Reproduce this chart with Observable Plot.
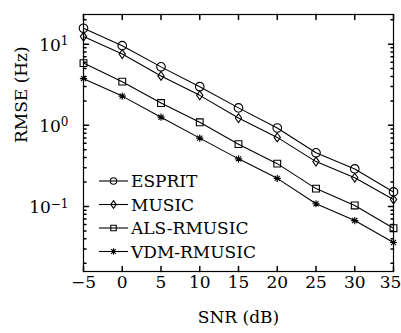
<!DOCTYPE html>
<html><head><meta charset="utf-8">
<script src="https://cdn.jsdelivr.net/npm/d3@7"></script>
<script src="https://cdn.jsdelivr.net/npm/@observablehq/plot@0.6"></script>
<style>
body{margin:0;background:#fff;}
#wrap{position:relative;width:401px;height:333px;}
#wrap svg{position:absolute;left:0;top:0;}
</style></head><body><div id="wrap"></div>
<script>
const snr = [-5, 0, 5, 10, 15, 20, 25, 30, 35];
const esprit = [15.7, 9.58, 5.25, 2.99, 1.64, 0.927, 0.458, 0.29, 0.151];
const music = [12.4, 7.55, 4.06, 2.34, 1.23, 0.71, 0.357, 0.226, 0.122];
const als = [5.84, 3.45, 1.88, 1.09, 0.586, 0.337, 0.166, 0.103, 0.054];
const vdm = [3.76, 2.29, 1.26, 0.695, 0.386, 0.222, 0.108, 0.067, 0.036];
const seriesNames = ["ESPRIT", "MUSIC", "ALS-RMUSIC", "VDM-RMUSIC"];
const xTicks = [-5, 0, 5, 10, 15, 20, 25, 30, 35];
const yTicks = [0.1, 1, 10];
const yTickLabels = ["10^−1", "10^0", "10^1"];
const xDomain = [-5, 35];
const yDomain = [0.0158, 23.2];

const FONT = "DejaVu Serif";

// marker shapes
const circleSym = {draw(c, s) { const r = Math.sqrt(s / Math.PI); c.moveTo(r, 0); c.arc(0, 0, r, 0, 2 * Math.PI); }};
const diamondSym = {draw(c, s) { const r = Math.sqrt(s / Math.PI); const h = r * 1.2, w = r * 0.85;
  c.moveTo(0, -h); c.lineTo(w, 0); c.lineTo(0, h); c.lineTo(-w, 0); c.closePath(); }};
const squareSym = {draw(c, s) { const r = Math.sqrt(s / Math.PI) * 0.85; c.rect(-r, -r, 2 * r, 2 * r); }};
const starSym = {draw(c, s) { const r = Math.sqrt(s / Math.PI);
  c.moveTo(-r, 0); c.lineTo(r, 0); c.moveTo(0, -r); c.lineTo(0, r);
  const d = r * 0.72; c.moveTo(-d, -d); c.lineTo(d, d); c.moveTo(-d, d); c.lineTo(d, -d); }};
const symbols = [circleSym, diamondSym, squareSym, starSym];
const radii = [4.3, 3.7, 4.0, 3.6];

const seriesVals = [esprit, music, als, vdm];
const rows = [];
seriesNames.forEach((name, k) => snr.forEach((x, i) => rows.push({name, k, x, y: seriesVals[k][i]})));

const tickShape = {draw(c, l) { c.moveTo(0, 0); c.lineTo(0, -l); }};

const minor = [];
for (let e = -2; e <= 1; e++) for (let m = 2; m <= 9; m++) {
  const v = m * Math.pow(10, e);
  if (v > yDomain[0] && v < yDomain[1]) minor.push(v);
}

const marks = [];
seriesNames.forEach((name, k) => {
  const data = rows.filter(d => d.k === k);
  marks.push(Plot.line(data, {x: "x", y: "y", stroke: "black", strokeWidth: 1.1}));
  marks.push(Plot.dot(data, {x: "x", y: "y", symbol: symbols[k], r: radii[k], stroke: "black", fill: "none", strokeWidth: 1.1}));
});

const fmtX = d => d < 0 ? "\u2212" + Math.abs(d) : String(d);
const lastX = xTicks[xTicks.length - 1];

// ticks (inward)
marks.push(
  Plot.vector(xTicks, {x: d => d, frameAnchor: "bottom", length: 5, rotate: 0, anchor: "start", shape: tickShape, stroke: "black"}),
  Plot.vector(xTicks, {x: d => d, frameAnchor: "top", length: 5, rotate: 180, anchor: "start", shape: tickShape, stroke: "black"}),
  Plot.vector(yTicks, {y: d => d, frameAnchor: "left", length: 5, rotate: 90, anchor: "start", shape: tickShape, stroke: "black"}),
  Plot.vector(yTicks, {y: d => d, frameAnchor: "right", length: 5, rotate: -90, anchor: "start", shape: tickShape, stroke: "black"}),
  Plot.vector(minor, {y: d => d, frameAnchor: "left", length: 2.5, rotate: 90, anchor: "start", shape: tickShape, stroke: "black"}),
  Plot.vector(minor, {y: d => d, frameAnchor: "right", length: 2.5, rotate: -90, anchor: "start", shape: tickShape, stroke: "black"}),
  Plot.frame({stroke: "black", strokeWidth: 1.2}),
  Plot.text(xTicks.filter(d => d !== lastX), {x: d => d, frameAnchor: "bottom", dy: 16, text: fmtX, fontSize: 17, fill: "black"}),
  Plot.text([lastX], {x: d => d, frameAnchor: "bottom", dy: 16, dx: -3, text: fmtX, fontSize: 17, fill: "black"}),
  Plot.text(yTicks, {y: d => d, frameAnchor: "left", dx: -15, dy: 1, textAnchor: "end", text: (d, i) => yTickLabels[i], fontSize: 17, fill: "black", className: "ylab"}),
  Plot.text(["RMSE (Hz)"], {frameAnchor: "left", dx: -62, rotate: -90, text: d => d, fontSize: 17, fill: "black"}),
  Plot.text(["SNR (dB)"], {frameAnchor: "bottom", dy: 51, text: d => d, fontSize: 17, fill: "black"})
);

const chart = Plot.plot({
  width: 401, height: 333,
  marginLeft: 83, marginRight: 8, marginTop: 14, marginBottom: 62,
  x: {domain: xDomain, axis: null},
  y: {type: "log", domain: yDomain, axis: null},
  style: {fontFamily: FONT, background: "white", overflow: "visible"},
  marks
});
document.getElementById("wrap").appendChild(chart);

// superscripts
d3.select(chart).selectAll(".ylab text").each(function() {
  const t = this.textContent;
  if (!t.includes("^")) return;
  const [base, sup] = t.split("^");
  const sel = d3.select(this);
  sel.text(null);
  sel.append("tspan").text(base);
  sel.append("tspan").attr("dy", "-0.45em").attr("font-size", 12).text(sup);
});

// legend
const lg = d3.select("#wrap").append("svg").attr("width", 401).attr("height", 333)
  .style("pointer-events", "none");
const rowY = [181, 204.5, 228, 251.5];
seriesNames.forEach((name, k) => {
  const g = lg.append("g").attr("transform", `translate(0,${rowY[k]})`);
  g.append("line").attr("x1", 99).attr("x2", 128).attr("y1", 0).attr("y2", 0).attr("stroke", "black").attr("stroke-width", 1.1);
  const p = d3.path(); symbols[k].draw(p, Math.PI * 3.2 * 3.2);
  g.append("path").attr("d", p.toString()).attr("transform", "translate(113.5,0)")
    .attr("fill", "none").attr("stroke", "black").attr("stroke-width", 1.1);
  g.append("text").attr("x", 131).attr("y", 0).attr("dy", "0.36em").attr("font-family", FONT)
    .attr("font-size", 17).attr("fill", "black").text(name);
});
</script></body></html>
